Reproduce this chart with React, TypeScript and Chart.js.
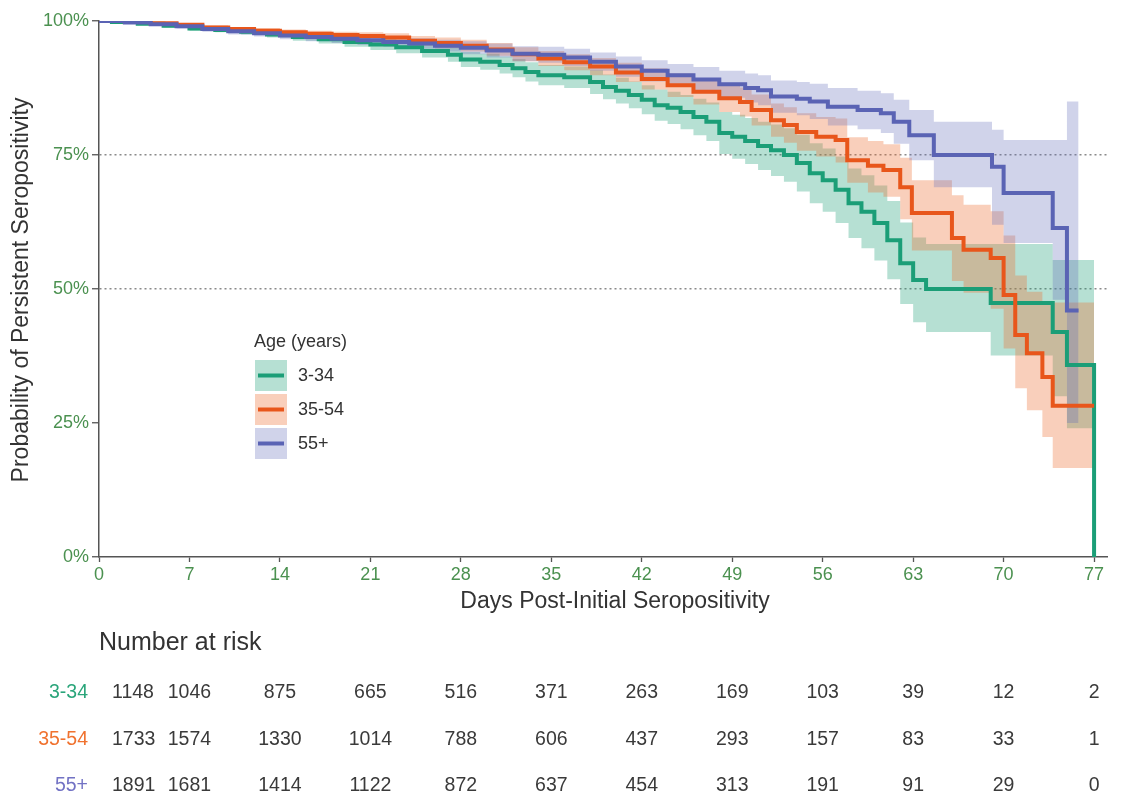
import React, { useEffect, useRef } from 'react';
import { Chart, registerables } from 'chart.js';

Chart.register(...registerables);

const FONT = '"Liberation Sans", Arial, sans-serif';

// ---- data ----
const groups = ['3-34', '35-54', '55+'];
const xTitle = 'Days Post-Initial Seropositivity';
const yTitle = 'Probability of Persistent Seropositivity';
const legendTitle = 'Age (years)';
const tableTitle = 'Number at risk';
const xTicks = [0, 7, 14, 21, 28, 35, 42, 49, 56, 63, 70, 77];
const yTicks = [0, 25, 50, 75, 100];
const dottedAt = [50, 75];

// 3-34
const tYoung = [0,1,3,5,7,9,11,13,15,17,19,21,23,25,27,28,29.5,31,32,33,34,36,38,39,40,41,42,43,44,45,46,47,48,49,50,51,52,53,54,55,56,57,58,59,60,61,62,63,64,69,73.8,74.9,77];
const sYoung = [100,99.8,99.5,99.1,98.6,98.3,98.0,97.5,97.0,96.6,96.1,95.6,95.1,94.4,93.7,92.8,92.4,91.8,91.2,90.5,89.9,89.5,88.6,87.7,87.0,86.2,85.3,84.3,83.8,83.0,82.1,81.2,79.1,78.4,77.6,76.7,75.9,75.0,73.5,71.6,70.3,68.5,66.0,64.4,62.3,59.1,54.8,51.7,50.0,47.4,42.0,35.8,0];
const hiYoung = [100,99.9,99.7,99.4,99.0,98.8,98.5,98.1,97.7,97.4,97.0,96.6,96.2,95.6,95.1,94.2,93.9,93.4,92.9,92.3,91.8,91.5,90.8,90.0,89.4,88.7,88.0,87.2,86.8,86.2,85.5,84.8,83.0,82.5,81.9,81.2,80.7,80.0,78.8,77.2,76.2,74.7,72.5,71.2,69.3,66.4,62.4,59.6,58.4,58.4,55.4,55.4,55.4];
const loYoung = [100,99.7,99.3,98.8,98.2,97.9,97.5,96.9,96.3,95.8,95.2,94.6,94.0,93.2,92.4,91.4,90.9,90.2,89.5,88.7,88.0,87.5,86.4,85.4,84.6,83.7,82.6,81.4,80.8,79.8,78.7,77.6,75.2,74.3,73.3,72.2,71.1,70.0,68.2,66.0,64.4,62.3,59.5,57.6,55.3,51.8,47.2,43.8,42.0,37.6,30.0,24.0,24.0];

// 35-54
const tMid = [0,2,4,6,8,10,12,14,16,18,20,22,24,26,28,30,32,34,36,38,40,42,44,46,48,49.6,50.5,52,53,54,55.5,57,57.9,59.5,60.7,62,62.9,66,66.9,69,70,70.9,71.8,73,73.8,77];
const sMid = [100,99.8,99.6,99.3,98.8,98.5,98.2,97.9,97.6,97.4,97.2,96.9,96.3,95.9,95.4,94.7,93.8,93.0,92.3,91.5,90.4,89.2,88.0,86.8,85.6,84.9,83.4,81.5,80.6,79.3,78.4,77.8,74.0,73.0,72.2,69.0,64.2,59.5,57.3,55.8,48.9,41.4,38.0,33.6,28.2,28.2];
const hiMid = [100,99.9,99.8,99.6,99.2,98.9,98.7,98.4,98.2,98.0,97.9,97.7,97.2,96.9,96.5,95.9,95.1,94.4,93.8,93.1,92.2,91.2,90.2,89.2,88.2,87.6,86.3,84.6,83.9,82.8,82.1,81.8,78.3,77.6,77.0,74.5,70.3,67.5,65.7,64.5,60.0,52.5,49.5,47.5,47.5,47.5];
const loMid = [100,99.7,99.4,99.0,98.4,98.1,97.7,97.4,97.0,96.8,96.5,96.1,95.4,94.9,94.3,93.5,92.5,91.6,90.8,89.9,88.6,87.2,85.8,84.4,83.0,82.2,80.5,78.4,77.3,75.8,74.7,73.6,69.8,68.0,67.2,63.0,57.2,51.5,49.3,46.3,38.9,31.5,27.4,22.4,16.6,16.6];

// 55+
const tOld = [0,2,4,6,8,10,12,14,16,18,20,22,24,26,28,30,32,34,36,38,40,42,44,46,48,50,51,52,54,55,56.4,58.7,60.5,61.5,62.7,64.6,69.1,70,73.8,74.9,75.8];
const sOld = [100,99.7,99.4,99.0,98.5,98.1,97.7,97.3,97.0,96.7,96.4,96.1,95.8,95.4,95.0,94.5,93.9,93.7,93.2,92.4,91.5,90.7,89.9,89.1,88.2,87.5,87.1,85.9,85.5,85.0,84.0,83.4,82.8,81.2,78.7,75.0,72.8,67.9,61.4,46.0,46.0];
const hiOld = [100,99.9,99.7,99.4,99.0,98.7,98.3,98.0,97.8,97.5,97.3,97.0,96.8,96.5,96.2,95.8,95.3,95.2,94.8,94.1,93.4,92.7,92.0,91.4,90.7,90.2,89.9,88.9,88.6,88.3,87.5,87.0,86.5,85.3,83.4,81.2,79.7,77.8,77.8,85.0,85.0];
const loOld = [100,99.5,99.1,98.6,98.0,97.5,97.1,96.6,96.2,95.9,95.5,95.2,94.8,94.3,93.8,93.2,92.5,92.2,91.6,90.7,89.6,88.7,87.8,86.8,85.7,84.8,84.3,82.9,82.4,81.7,80.5,79.8,79.1,77.1,74.0,69.0,62.0,58.6,48.0,25.0,25.0];

// number at risk (at xTicks)
const riskYoung = [1148, 1046, 875, 665, 516, 371, 263, 169, 103, 39, 12, 2];
const riskMid = [1733, 1574, 1330, 1014, 788, 606, 437, 293, 157, 83, 33, 1];
const riskOld = [1891, 1681, 1414, 1122, 872, 637, 454, 313, 191, 91, 29, 0];

// ---- styles ----
const lineColors = ['#1b9e77', '#e8561b', '#5a63b4'];
const bandColors = ['rgba(27,158,119,0.32)', 'rgba(238,110,48,0.33)', 'rgba(100,110,185,0.30)'];
const labelColors = ['#2aa57a', '#f0722f', '#7272c4'];
const tickColor = '#4b9150';
const textColor = '#333333';

const series = [
  { t: tYoung, s: sYoung, lo: loYoung, hi: hiYoung, risk: riskYoung },
  { t: tMid, s: sMid, lo: loMid, hi: hiMid, risk: riskMid },
  { t: tOld, s: sOld, lo: loOld, hi: hiOld, risk: riskOld },
];

const pts = (t: number[], v: number[]) => t.map((x, i) => ({ x, y: v[i] }));

function buildDatasets() {
  const ds: any[] = [];
  series.forEach((g, i) => {
    ds.push({
      label: groups[i] + ' lower',
      data: pts(g.t, g.lo),
      stepped: true,
      borderWidth: 0,
      borderColor: 'rgba(0,0,0,0)',
      pointRadius: 0,
      fill: false,
      order: 10 - i,
    });
    ds.push({
      label: groups[i] + ' upper',
      data: pts(g.t, g.hi),
      stepped: true,
      borderWidth: 0,
      borderColor: 'rgba(0,0,0,0)',
      backgroundColor: bandColors[i],
      pointRadius: 0,
      fill: '-1',
      order: 10 - i,
    });
  });
  series.forEach((g, i) => {
    ds.push({
      label: groups[i],
      data: pts(g.t, g.s),
      stepped: true,
      borderWidth: 4,
      borderColor: lineColors[i],
      borderCapStyle: 'butt',
      borderJoinStyle: 'miter',
      pointRadius: 0,
      fill: false,
      order: 3 - i,
    });
  });
  return ds;
}

const overlay = {
  id: 'overlay',
  afterDraw(chart: any) {
    const { ctx, scales } = chart;
    const xs = scales.x;
    ctx.save();
    // axis titles
    ctx.fillStyle = textColor;
    ctx.font = `23px ${FONT}`;
    ctx.textAlign = 'center';
    ctx.textBaseline = 'middle';
    ctx.fillText(xTitle, 615, 602);
    ctx.save();
    ctx.translate(22, 290);
    ctx.rotate(-Math.PI / 2);
    ctx.fillText(yTitle, 0, 0);
    ctx.restore();

    // legend
    ctx.textAlign = 'left';
    ctx.font = `18px ${FONT}`;
    ctx.fillStyle = textColor;
    ctx.fillText(legendTitle, 254, 342);
    groups.forEach((g, i) => {
      const by = 360 + i * 34;
      ctx.fillStyle = bandColors[i];
      ctx.fillRect(255, by, 32, 31);
      ctx.strokeStyle = lineColors[i];
      ctx.lineWidth = 4;
      ctx.beginPath();
      ctx.moveTo(258, by + 15.5);
      ctx.lineTo(284, by + 15.5);
      ctx.stroke();
      ctx.fillStyle = textColor;
      ctx.fillText(g, 298, by + 16);
    });

    // risk table
    ctx.font = `25px ${FONT}`;
    ctx.fillStyle = textColor;
    ctx.textAlign = 'left';
    ctx.fillText(tableTitle, 99, 643);
    const rowsY = [693, 740, 786];
    ctx.font = `19.5px ${FONT}`;
    series.forEach((g, r) => {
      const y = rowsY[r];
      ctx.textAlign = 'right';
      ctx.fillStyle = labelColors[r];
      ctx.fillText(groups[r], 88, y);
      ctx.fillStyle = '#3a3a3a';
      xTicks.forEach((t, c) => {
        const px = xs.getPixelForValue(t);
        if (c === 0) {
          ctx.textAlign = 'left';
          ctx.fillText(String(g.risk[c]), px + 13, y);
        } else {
          ctx.textAlign = 'center';
          ctx.fillText(String(g.risk[c]), px, y);
        }
      });
    });
    ctx.restore();
  },
};

export default function App() {
  const ref = useRef<HTMLCanvasElement>(null);
  useEffect(() => {
    document.body.style.margin = '0';
    const chart = new Chart(ref.current as HTMLCanvasElement, {
      type: 'line',
      data: { datasets: buildDatasets() },
      options: {
        responsive: false,
        animation: false,
        devicePixelRatio: 1,
        layout: { padding: { left: 0, right: 15, top: 21, bottom: 0 } },
        plugins: {
          legend: { display: false },
          tooltip: { enabled: false },
        },
        scales: {
          x: {
            type: 'linear',
            min: 0,
            max: 78,
            afterBuildTicks: (scale: any) => {
              scale.ticks = xTicks.map((v) => ({ value: v }));
            },
            afterFit: (scale: any) => {
              scale.height = 795 - 557;
            },
            ticks: {
              color: tickColor,
              font: { family: FONT, size: 18 },
              padding: 2,
              maxRotation: 0,
              autoSkip: false,
            },
            grid: {
              drawOnChartArea: false,
              drawTicks: true,
              tickLength: 5,
              tickColor: '#555',
              tickWidth: 1.3,
            },
            border: { color: '#555', width: 1.5 },
          },
          y: {
            type: 'linear',
            min: 0,
            max: 100,
            afterBuildTicks: (scale: any) => {
              scale.ticks = yTicks.map((v) => ({ value: v }));
            },
            afterFit: (scale: any) => {
              scale.width = 99;
            },
            ticks: {
              color: tickColor,
              font: { family: FONT, size: 18 },
              padding: 3,
              callback: (v: any) => v + '%',
            },
            grid: {
              drawOnChartArea: true,
              drawTicks: true,
              tickLength: 7,
              color: (c: any) => (c.tick && dottedAt.includes(c.tick.value) ? '#8a8a8a' : 'rgba(0,0,0,0)'),
              lineWidth: 1.5,
              tickBorderDash: [],
              tickColor: '#555',
              tickWidth: 1.3,
            },
            border: { color: '#555', width: 1.5, dash: [2, 3] },
          },
        },
      },
      plugins: [overlay],
    } as any);
    return () => chart.destroy();
  }, []);
  return (
    <div style={{ width: 1122, height: 795, position: 'relative', background: '#fff' }}>
      <canvas ref={ref} width={1122} height={795} style={{ display: 'block' }} />
    </div>
  );
}
